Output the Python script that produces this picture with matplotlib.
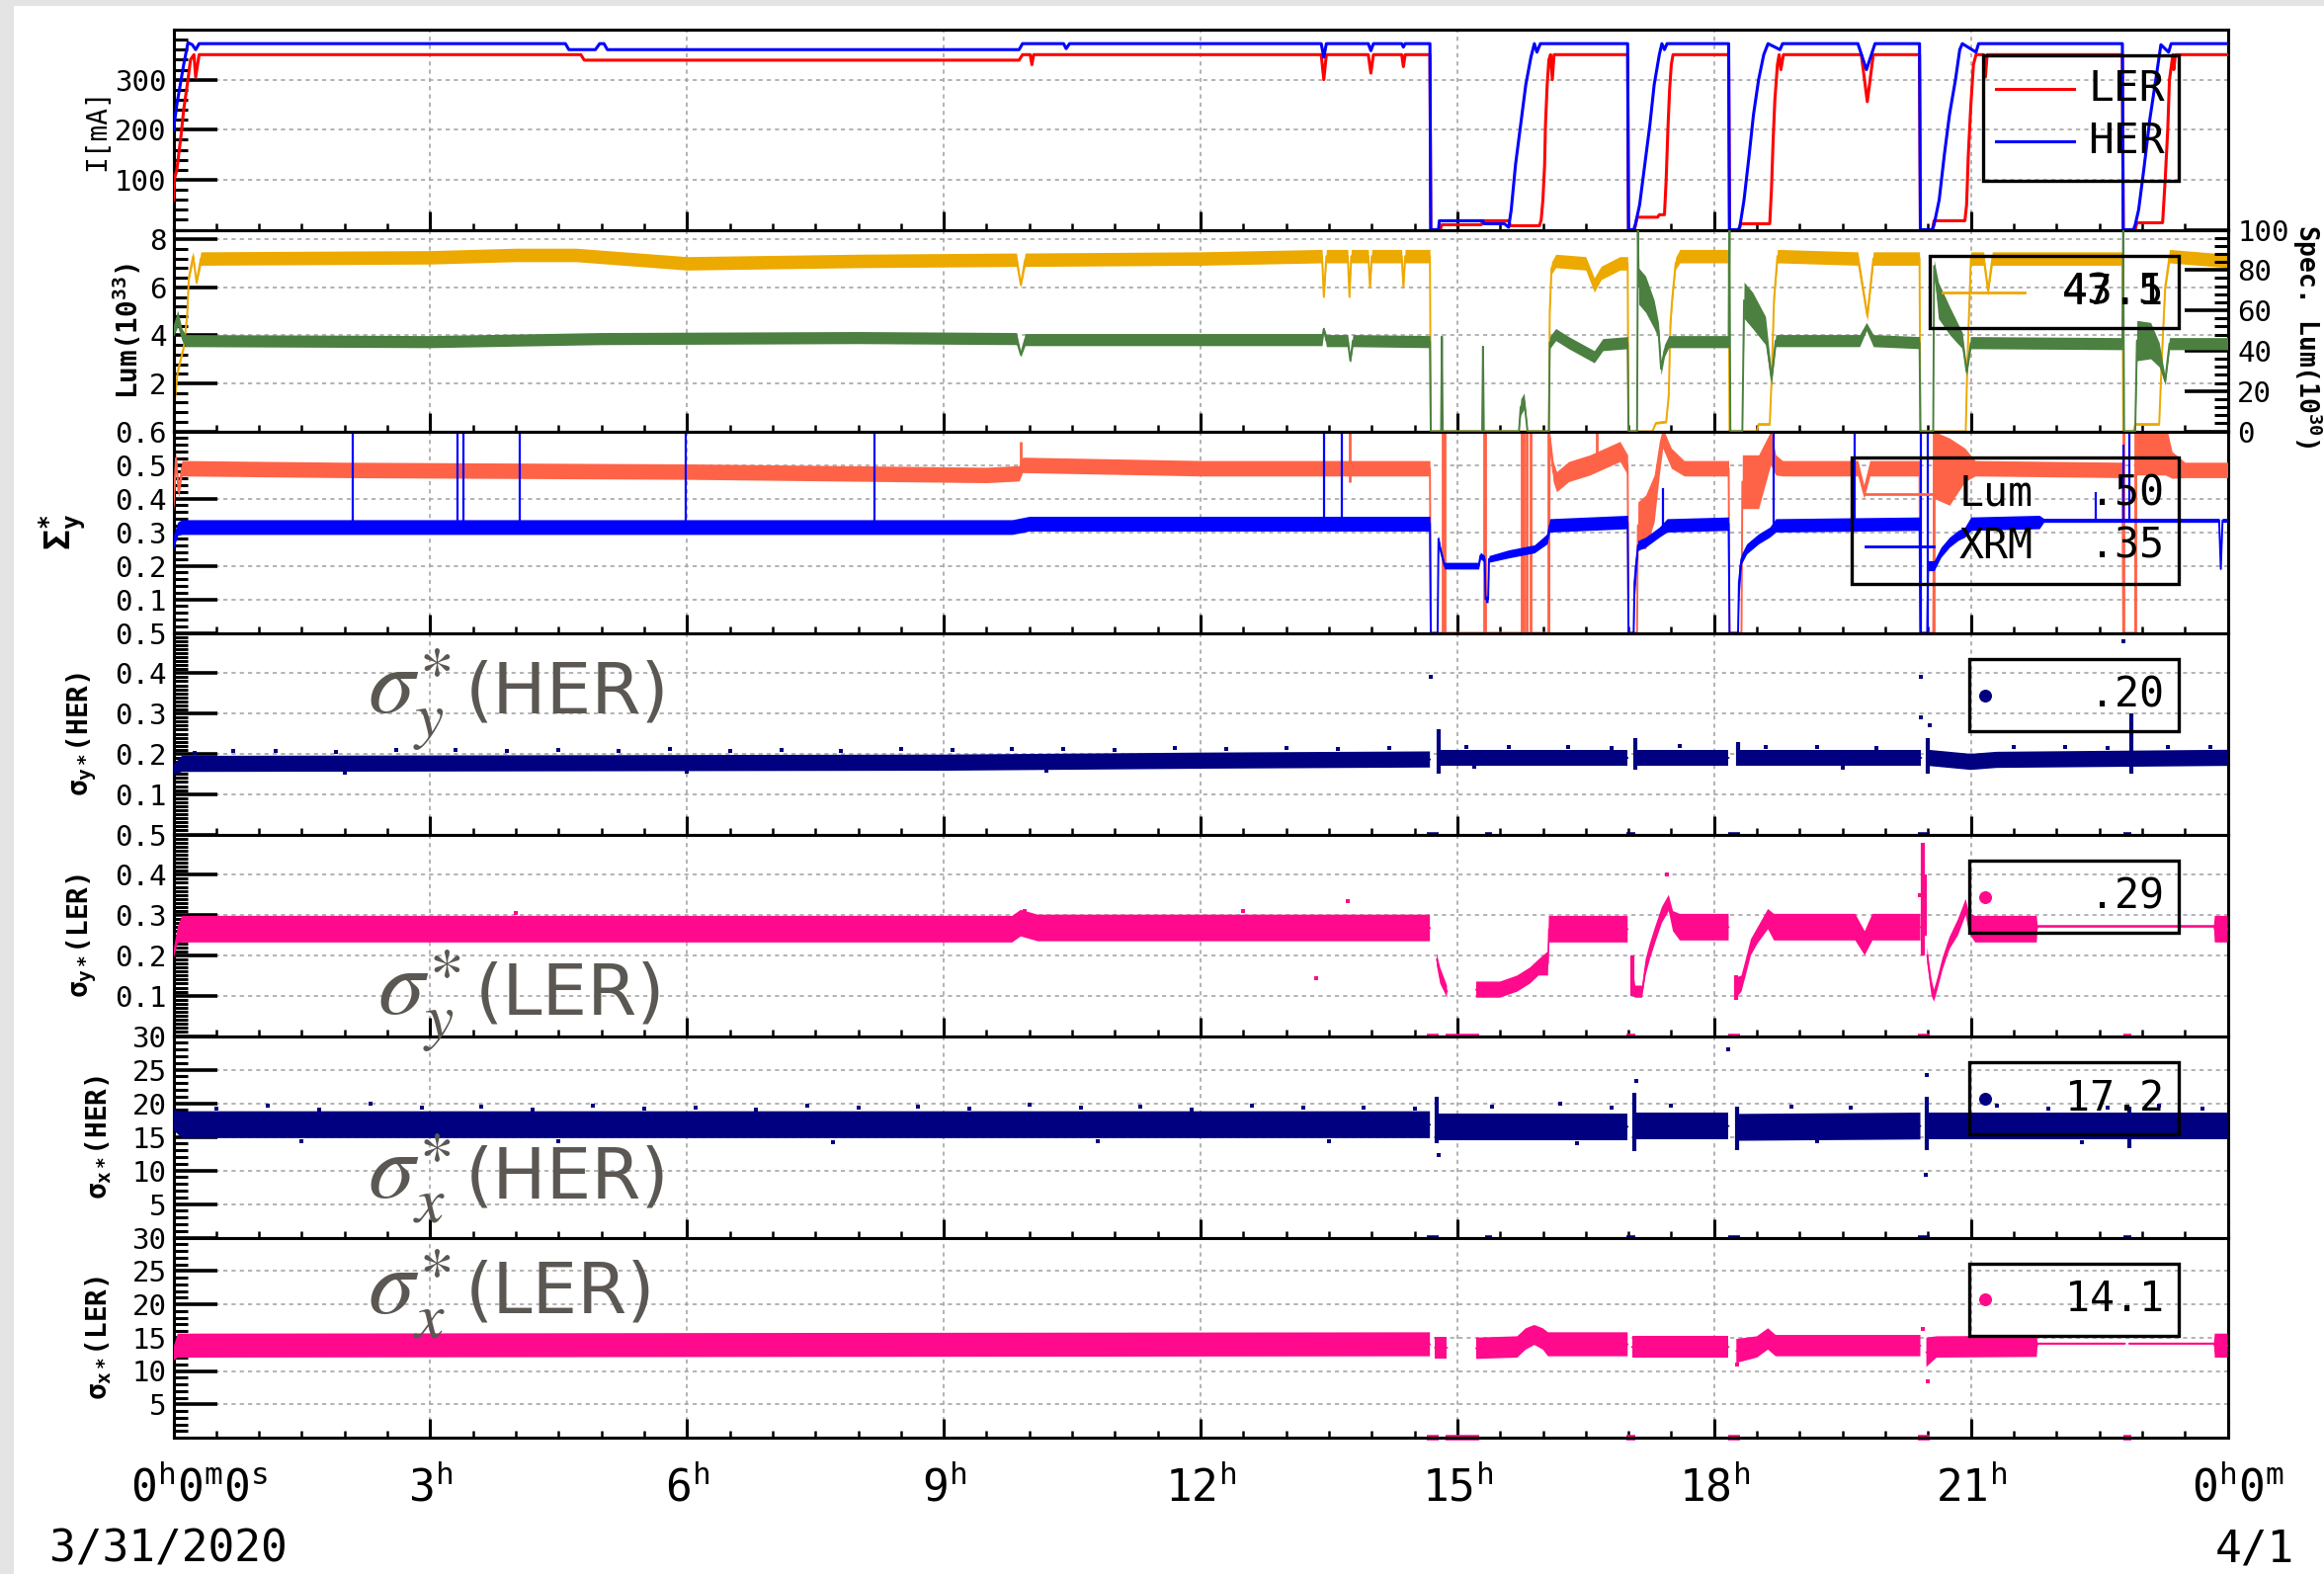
import numpy as np
import matplotlib
matplotlib.use('Agg')
import matplotlib.pyplot as plt
from matplotlib.patches import Rectangle
from matplotlib.lines import Line2D
from matplotlib.ticker import FixedLocator, MultipleLocator, FormatStrFormatter
from matplotlib.transforms import blended_transform_factory

plt.rcParams['font.family'] = ['DejaVu Sans Mono']
plt.rcParams['mathtext.fontset'] = 'custom'
plt.rcParams['mathtext.rm'] = 'DejaVu Sans Mono'
plt.rcParams['mathtext.it'] = 'DejaVu Sans Mono:italic'
plt.rcParams['mathtext.bf'] = 'DejaVu Sans Mono:bold'

nan = float('nan')

# ---------------- data (time in hours since 3/31/2020 0:00) ----------------
# Panel 1: beam currents [mA]  (t, I)
her_current = [(0.00,200),(0.04,250),(0.09,300),(0.12,330),(0.17,374),(0.22,370),(0.26,360),(0.30,372),
    (4.58,372),(4.62,360),(4.93,360),(4.98,372),(5.03,372),(5.07,360),(9.88,360),(9.92,372),(10.40,372),(10.43,362),(10.47,372),
    (13.41,372),(13.44,345),(13.47,372),(13.96,372),(13.99,358),(14.02,372),(14.35,372),(14.37,365),(14.39,372),
    (14.68,372),(14.69,0),(14.78,0),(14.79,18),(15.30,18),(15.31,12),(15.55,12),(15.60,5),
    (15.63,40),(15.68,130),(15.74,210),(15.80,290),(15.86,345),(15.90,372),(15.93,355),(15.97,372),
    (16.99,372),(17.00,0),(17.06,0),(17.08,10),(17.13,50),(17.19,130),(17.25,210),(17.30,290),(17.36,350),(17.39,372),(17.42,360),(17.45,372),
    (18.17,372),(18.18,0),(18.28,0),(18.30,5),(18.35,60),(18.41,150),(18.46,230),(18.52,300),(18.58,350),(18.63,372),(18.77,360),(18.80,372),
    (19.68,372),(19.78,320),(19.88,372),
    (20.40,372),(20.41,0),(20.55,0),(20.57,10),(20.63,60),(20.69,150),(20.75,230),(20.82,300),(20.87,360),(20.90,372),(21.06,355),(21.09,372),
    (22.77,372),(22.78,0),(22.90,0),(22.92,10),(22.96,40),(23.02,120),(23.09,220),(23.16,300),(23.22,370),(23.31,355),(23.34,372),(24.0,372)]
ler_current = [(0.00,60),(0.01,100),(0.04,120),(0.09,190),(0.12,240),(0.17,300),(0.20,340),(0.24,350),(0.26,305),(0.30,350),
    (4.76,350),(4.80,339),(9.88,339),(9.92,350),(10.01,350),(10.03,330),(10.05,350),
    (13.41,350),(13.44,300),(13.47,350),(13.96,350),(13.99,313),(14.02,350),(14.35,350),(14.37,326),(14.39,350),
    (14.68,350),(14.69,0),(14.80,0),(14.82,10),(15.28,10),(15.30,18),(15.60,18),(15.62,8),(15.96,8),
    (15.98,20),(16.00,60),(16.02,130),(16.03,210),(16.05,290),(16.07,340),(16.09,350),(16.11,300),(16.13,350),
    (16.99,350),(17.00,0),(17.07,0),(17.10,25),(17.34,25),(17.36,30),(17.42,30),(17.44,100),(17.46,200),(17.48,280),(17.50,330),(17.52,350),
    (18.17,350),(18.18,0),(18.29,0),(18.31,12),(18.65,12),(18.67,80),(18.69,180),(18.71,260),(18.74,330),(18.76,350),(18.78,320),(18.81,350),
    (19.72,350),(19.79,256),(19.86,350),
    (20.40,350),(20.41,0),(20.55,0),(20.57,18),(20.93,18),(20.95,50),(20.97,150),(21.00,250),(21.03,330),(21.06,350),(21.15,350),(21.17,305),(21.19,350),
    (22.77,350),(22.78,0),(22.92,0),(22.94,14),(23.24,14),(23.27,100),(23.30,200),(23.32,300),(23.36,350),(23.37,320),(23.39,350),(24.0,350)]

# Panel 2: luminosity [1e33] (left) and specific luminosity (right): (t, value, noise half-width)
lum_knots = [(0.00,0.7,0.1),(0.05,2.5,0.1),(0.12,3.5,0.1),(0.16,4.8,0.1),(0.18,6.4,0.15),(0.23,7.3,0.2),(0.27,6.2,0.1),(0.32,7.2,0.28),
    (3.0,7.25,0.28),(4.0,7.35,0.28),(4.7,7.35,0.28),(6.0,7.0,0.28),(8.0,7.1,0.28),(9.85,7.15,0.28),(9.9,6.1,0.1),(9.95,7.15,0.28),
    (12.0,7.2,0.28),(13.42,7.3,0.28),(13.44,5.6,0.1),(13.47,7.3,0.28),(13.72,7.3,0.28),(13.74,5.6,0.1),(13.76,7.3,0.28),
    (13.96,7.3,0.28),(13.98,6.0,0.1),(14.0,7.3,0.28),(14.35,7.3,0.28),(14.37,6.0,0.1),(14.39,7.3,0.28),(14.68,7.3,0.28),
    (14.69,0,0),(16.07,0,0),(16.08,5.0,0.2),(16.10,6.8,0.25),(16.15,7.1,0.28),(16.5,7.0,0.28),(16.6,6.1,0.3),(16.68,6.6,0.28),
    (16.9,7.0,0.28),(16.99,7.0,0.28),(17.0,0,0),(17.28,0,0),(17.32,0.35,0.05),(17.44,0.4,0.05),(17.47,1.5,0.1),(17.49,4.5,0.2),
    (17.51,5.5,0.2),(17.55,7.0,0.25),(17.6,7.3,0.28),(18.17,7.3,0.28),(18.18,0,0),(18.5,0,0),(18.52,0.3,0.05),(18.65,0.3,0.05),
    (18.67,2.0,0.1),(18.70,5.5,0.2),(18.74,7.3,0.28),(19.68,7.2,0.28),(19.79,4.8,0.2),(19.86,7.2,0.28),(20.40,7.2,0.28),
    (20.41,0,0),(20.94,0,0),(20.96,3.0,0.2),(21.0,7.2,0.28),(21.15,7.2,0.28),(21.2,5.85,0.2),(21.25,7.2,0.28),(22.77,7.2,0.28),
    (22.78,0,0),(22.9,0,0),(22.92,0.3,0.05),(23.2,0.3,0.05),(23.23,3.0,0.2),(23.27,6.0,0.2),(23.32,7.3,0.28),(24.0,7.1,0.28)]
spec_knots = [(0.00,50,3),(0.05,56,4),(0.10,48,3),(0.14,45,3),(3.0,44.5,3),(5.0,46,3),(8.0,46.5,3),(9.85,46,3),(9.9,38,1),
    (9.95,45.5,3),(13.0,45.5,3),(13.42,45.5,3),(13.44,50.8,1),(13.47,45,3),(13.72,45,3),(13.75,35,1),(13.78,45,3),(14.68,44.5,3),
    (14.69,0,0),(14.81,0,0),(14.82,47,0),(14.83,0,0),(15.29,0,0),(15.30,42,0),(15.31,0,0),(15.72,0,0),(15.74,12,4),(15.78,15,4),
    (15.80,8,2),(15.82,0,0),(16.07,0,0),(16.08,44,3),(16.15,48,3),(16.3,44,3),(16.6,37,3),(16.7,43,3),(16.99,44,3),(17.0,0,0),
    (17.10,0,0),(17.11,100,0),(17.12,72,9),(17.2,68,9),(17.3,58,7),(17.35,50,4),(17.38,31,3),(17.42,40,3),(17.47,44.5,3),
    (18.17,44.5,3),(18.18,100,0),(18.19,0,0),(18.33,0,0),(18.35,65,9),(18.45,60,9),(18.6,50,7),(18.67,26,3),(18.72,45,3),
    (19.7,45,3),(19.78,52,2),(19.86,45,3),(20.40,44,3),(20.41,0,0),(20.56,0,0),(20.57,82,3),(20.62,65,9),(20.75,55,7),
    (20.9,45,4),(20.95,29.5,2),(21.0,44,3),(22.77,43.5,3),(22.78,100,0),(22.79,0,0),(22.92,0,0),(22.94,45,10),(23.1,45,9),
    (23.2,38,6),(23.27,25,2),(23.32,43.5,3),(24.0,43.5,3)]

# Panel 3: Sigma_y* from luminosity and from XRM: (t, value, noise half-width)
sig_lum_knots = [(0.0,0.38,0.02),(0.03,0.52,0.02),(0.06,0.42,0.02),(0.10,0.49,0.023),(2.0,0.485,0.023),(6.0,0.48,0.023),
    (9.5,0.47,0.023),(9.88,0.475,0.023),(9.92,0.5,0.023),(12.0,0.49,0.023),(14.68,0.49,0.023),(14.69,0,0),(16.07,0,0),
    (16.08,0.58,0.02),(16.12,0.48,0.03),(16.16,0.45,0.03),(16.3,0.48,0.03),(16.55,0.5,0.03),(16.9,0.54,0.03),(16.99,0.5,0.03),
    (17.0,0,0),(17.10,0,0),(17.11,0.32,0.07),(17.2,0.33,0.08),(17.3,0.4,0.07),(17.36,0.52,0.05),(17.40,0.58,0.03),(17.5,0.52,0.03),
    (17.65,0.49,0.023),(18.17,0.49,0.023),(18.18,0,0),(18.32,0,0),(18.33,0.45,0.08),(18.52,0.45,0.08),(18.66,0.55,0.05),
    (18.72,0.5,0.03),(18.8,0.49,0.023),(19.68,0.49,0.023),(19.75,0.42,0.02),(19.82,0.49,0.023),(20.40,0.49,0.023),(20.41,0,0),
    (20.56,0,0),(20.57,0.5,0.1),(20.75,0.48,0.1),(20.93,0.5,0.05),(21.05,0.49,0.023),(22.77,0.485,0.023),(22.78,0,0),(22.92,0,0),
    (22.93,0.55,0.08),(23.27,0.55,0.08),(23.35,0.5,0.04),(23.5,0.485,0.023),(24.0,0.485,0.023)]
sig_xrm_knots = [(0.0,0.27,0.02),(0.05,0.31,0.02),(0.10,0.315,0.022),(9.8,0.315,0.022),(10.0,0.325,0.022),(14.68,0.325,0.022),
    (14.69,0,0),(14.77,0,0),(14.78,0.28,0.01),(14.80,0.25,0.01),(14.85,0.2,0.01),(15.25,0.2,0.01),(15.27,0.23,0.01),(15.32,0.22,0.01),
    (15.33,0.1,0.01),(15.36,0.1,0.01),(15.37,0.22,0.01),(15.6,0.235,0.012),(15.9,0.25,0.012),(16.05,0.28,0.015),(16.08,0.32,0.02),
    (16.99,0.33,0.02),(17.0,0,0),(17.06,0,0),(17.07,0.15,0.05),(17.11,0.26,0.015),(17.2,0.27,0.015),(17.36,0.30,0.015),
    (17.45,0.32,0.02),(18.17,0.325,0.02),(18.18,0,0),(18.28,0,0),(18.29,0.15,0.05),(18.32,0.22,0.015),(18.38,0.25,0.015),
    (18.52,0.28,0.015),(18.65,0.30,0.015),(18.72,0.32,0.02),(20.40,0.325,0.02),(20.41,0,0),(20.49,0,0),(20.50,0.2,0.015),
    (20.57,0.2,0.015),(20.65,0.24,0.015),(20.75,0.27,0.015),(20.85,0.29,0.015),(20.93,0.30,0.015),(21.0,0.325,0.02),
    (21.8,0.33,0.02),(21.85,0.335,0.006),(23.9,0.335,0.006),(23.92,0.19,0.0),(23.94,0.335,0.006),(24.0,0.335,0.006)]
xrm_spikes = [(2.10,0.33,0.62),(3.32,0.33,0.62),(3.39,0.33,0.62),(4.05,0.33,0.62),(5.99,0.33,0.62),(8.19,0.33,0.62),
    (13.44,0.33,0.62),(13.65,0.33,0.62),(17.40,0.32,0.43),(18.70,0.30,0.62),(19.64,0.33,0.62),(20.41,0.0,0.62),
    (20.50,0.0,0.62),(22.46,0.335,0.42),(22.78,0.335,0.56),(22.85,0.335,0.62)]
lum_spikes = [(9.90,0.5,0.57),(13.74,0.45,0.62),(14.83,0,0.62),(14.85,0,0.62),(15.31,0,0.62),(15.33,0,0.62),(15.75,0,0.62),
    (15.78,0,0.62),(15.81,0,0.62),(15.85,0,0.62),(16.06,0,0.62),(16.63,0.5,0.6),(18.66,0.5,0.62),(20.57,0,0.62),
    (22.78,0,0.62),(22.92,0,0.62)]

# Panel 4: sigma_y*(HER) [um]
sy_her_knots = [(0.0,0.16,0.012),(0.1,0.175,0.02),(3.0,0.176,0.02),(9.0,0.178,0.02),(12.0,0.183,0.02),(14.68,0.186,0.02),
    (14.69,nan,nan),(14.78,nan,nan),(14.79,0.19,0.02),(16.99,0.19,0.02),(17.0,nan,nan),(17.07,nan,nan),(17.08,0.19,0.02),
    (18.17,0.19,0.02),(18.18,nan,nan),(18.27,nan,nan),(18.28,0.19,0.02),(20.42,0.19,0.02),(20.43,nan,nan),(20.49,nan,nan),
    (20.50,0.19,0.02),(21.0,0.18,0.02),(21.3,0.185,0.02),(24.0,0.19,0.02)]
sy_her_spread = [(14.78,0.15,0.26),(17.08,0.16,0.24),(18.28,0.17,0.23),(20.50,0.15,0.24),(22.88,0.15,0.30)]
sy_her_points = [(14.69,0.39),(20.41,0.39),(20.41,0.29),(20.52,0.27),(22.78,0.48),
    (0.25,0.203),(0.7,0.206),(1.2,0.208),(1.9,0.204),(2.6,0.209),(3.3,0.21),(3.9,0.206),(4.5,0.209),(5.2,0.207),(5.8,0.211),
    (6.5,0.208),(7.1,0.21),(7.8,0.207),(8.5,0.212),(9.1,0.209),(9.8,0.211),(10.4,0.213),(11.0,0.21),(11.7,0.214),(12.3,0.211),
    (13.0,0.214),(13.6,0.212),(14.2,0.215),(15.1,0.216),(15.6,0.218),(16.3,0.216),(16.8,0.214),(17.6,0.219),(18.6,0.216),
    (19.2,0.218),(19.9,0.214),(21.5,0.216),(22.1,0.217),(22.6,0.215),(23.3,0.218),(23.8,0.216),
    (2.0,0.153),(6.0,0.156),(10.2,0.158),(15.2,0.167),(19.5,0.166)]

# Panel 5: sigma_y*(LER) [um]
sy_ler_knots = [(0.0,0.2,0.01),(0.05,0.25,0.02),(0.1,0.265,0.033),(9.8,0.265,0.033),(9.9,0.28,0.033),(10.1,0.268,0.033),
    (14.68,0.268,0.033),(14.69,nan,nan),(14.75,nan,nan),(14.76,0.19,0.015),(14.80,0.15,0.02),(14.88,0.11,0.015),(14.89,nan,nan),
    (15.21,nan,nan),(15.22,0.115,0.02),(15.5,0.115,0.02),(15.7,0.13,0.02),(15.85,0.15,0.02),(15.95,0.17,0.02),(16.06,0.18,0.03),
    (16.07,0.265,0.033),(16.99,0.265,0.033),(17.0,nan,nan),(17.03,nan,nan),(17.04,0.14,0.04),(17.08,0.11,0.015),(17.16,0.11,0.015),
    (17.2,0.17,0.02),(17.25,0.21,0.02),(17.31,0.25,0.02),(17.39,0.3,0.02),(17.47,0.33,0.02),(17.52,0.285,0.025),(17.6,0.27,0.033),
    (18.17,0.27,0.033),(18.18,nan,nan),(18.25,nan,nan),(18.26,0.12,0.025),(18.32,0.13,0.02),(18.37,0.17,0.02),(18.43,0.22,0.02),
    (18.51,0.25,0.02),(18.63,0.29,0.025),(18.7,0.27,0.033),(19.65,0.27,0.033),(19.76,0.23,0.03),(19.85,0.27,0.033),
    (20.41,0.27,0.033),(20.42,nan,nan),(20.48,nan,nan),(20.49,0.2,0.02),(20.54,0.12,0.02),(20.57,0.1,0.015),(20.61,0.13,0.015),
    (20.67,0.18,0.015),(20.75,0.23,0.015),(20.85,0.27,0.02),(20.94,0.32,0.02),(20.98,0.28,0.025),(21.05,0.265,0.033),
    (21.77,0.265,0.033),(21.78,0.272,0.003),(23.84,0.272,0.003),(23.85,0.265,0.033),(24.0,0.265,0.033)]
sy_ler_spread = [(20.44,0.20,0.48),(20.46,0.25,0.40),(17.04,0.10,0.20),(18.26,0.09,0.15)]
sy_ler_points = [(13.35,0.143),(13.72,0.335),(17.45,0.40),(20.40,0.35),(9.95,0.31),(4.0,0.305),(12.5,0.31)]

# Panel 6: sigma_x*(HER) [um]
sx_her_knots = [(0.0,17.5,1.5),(0.1,16.8,2.0),(14.68,16.8,2.0),(14.69,nan,nan),(14.75,nan,nan),(14.76,16.5,2.0),(16.99,16.5,2.0),
    (17.0,nan,nan),(17.06,nan,nan),(17.07,16.6,2.0),(18.17,16.6,2.0),(18.18,nan,nan),(18.26,nan,nan),(18.27,16.4,2.0),
    (20.41,16.6,2.0),(20.42,nan,nan),(20.47,nan,nan),(20.48,16.6,2.0),(24.0,16.6,2.0)]
sx_her_spread = [(14.76,14.0,21.0),(17.07,12.8,21.5),(18.27,13.0,19.5),(20.48,13.0,21.0),(22.85,13.3,19.5)]
sx_her_points = [(14.78,12.3),(17.09,23.3),(18.17,28.0),(20.47,9.4),(20.48,24.2),
    (0.5,19.2),(1.1,19.6),(1.7,19.1),(2.3,19.9),(2.9,19.3),(3.6,19.5),(4.2,19.1),(4.9,19.7),(5.5,19.2),(6.1,19.4),(6.8,19.1),
    (7.4,19.6),(8.0,19.3),(8.7,19.5),(9.3,19.2),(10.0,19.8),(10.6,19.3),(11.3,19.5),(11.9,19.1),(12.6,19.6),(13.2,19.3),
    (13.9,19.4),(14.5,19.2),(15.4,19.5),(16.2,19.9),(16.8,19.3),(17.5,19.6),(18.9,19.5),(19.6,19.3),(21.3,19.7),(21.9,19.2),
    (22.6,19.4),(23.2,19.6),(23.7,19.2),
    (1.5,14.3),(4.5,14.4),(7.7,14.2),(10.8,14.4),(13.5,14.3),(16.4,14.1),(19.2,14.3),(22.3,14.2)]

# Panel 7: sigma_x*(LER) [um]
sx_ler_knots = [(0.0,12.5,1.0),(0.05,13.8,1.8),(14.68,14.0,1.8),(14.69,nan,nan),(14.73,nan,nan),(14.74,13.5,1.6),(14.88,13.5,1.6),
    (14.89,nan,nan),(15.21,nan,nan),(15.22,13.4,1.6),(15.70,13.6,1.6),(15.80,14.8,1.6),(15.90,15.4,1.5),(16.0,14.8,1.6),
    (16.06,14.0,1.8),(16.99,14.0,1.8),(17.0,nan,nan),(17.03,nan,nan),(17.04,13.6,1.6),(18.17,13.6,1.6),(18.18,nan,nan),
    (18.25,nan,nan),(18.26,13.0,1.8),(18.5,13.6,1.6),(18.63,14.8,1.6),(18.72,13.8,1.6),(20.41,13.8,1.6),(20.42,nan,nan),
    (20.47,nan,nan),(20.48,12.8,2.2),(20.6,13.6,1.6),(21.77,13.7,1.6),(21.78,14.1,0.15),(22.80,14.1,0.15),(22.81,nan,nan),
    (22.84,nan,nan),(22.85,14.1,0.15),(23.84,14.1,0.15),(23.85,13.8,1.8),(24.0,13.8,1.8)]
sx_ler_points = [(20.5,8.5),(18.27,11.0),(20.44,16.3)]

# zero readings (drawn on the axis) during beam loss
her_zero = [(14.64,14.78),(15.32,15.40),(16.98,17.08),(18.16,18.30),(20.38,20.52),(22.78,22.88)]
ler_zero = [(14.64,14.78),(14.86,15.26),(16.98,17.08),(18.16,18.30),(20.38,20.52),(22.78,22.88)]

# legend values
leg_values_lum = ['43.5', '47.1']
leg_values_sigma = ['.50', '.35']
leg_sy_her, leg_sy_ler, leg_sx_her, leg_sx_ler = '.20', '.29', '17.2', '14.1'

xtick_pos = [0, 3, 6, 9, 12, 15, 18, 21, 24]
xtick_lab = [r'0$^{\mathrm{h}}$0$^{\mathrm{m}}$0$^{\mathrm{s}}$', r'3$^{\mathrm{h}}$', r'6$^{\mathrm{h}}$', r'9$^{\mathrm{h}}$',
             r'12$^{\mathrm{h}}$', r'15$^{\mathrm{h}}$', r'18$^{\mathrm{h}}$', r'21$^{\mathrm{h}}$', r'0$^{\mathrm{h}}$0$^{\mathrm{m}}$']

# ---------------- colours ----------------
C_LER = '#ff0000'; C_HER = '#0000ff'; C_LUM = '#eca900'; C_SPEC = '#4b8040'
C_TOM = '#ff6347'; C_NAVY = '#000080'; C_PINK = '#ff0a8c'; C_ANN = '#5b5752'

# ---------------- figure ----------------
W, H = 2352, 1593
fig = plt.figure(figsize=(W/100, H/100), dpi=100)
fig.patch.set_facecolor('#e4e4e4')
fig.add_artist(Rectangle((14/W, 0), 1, 1-6/H, transform=fig.transFigure, facecolor='white', edgecolor='none', zorder=-100))

x_l, x_r = 175.5, 2254.5
edges = [30, 232.5, 436.5, 640.5, 844.5, 1048.5, 1252.5, 1455]
axes = []
for i in range(7):
    top, bot = edges[i], edges[i+1]
    axes.append(fig.add_axes([x_l/W, 1-bot/H, (x_r-x_l)/W, (bot-top)/H]))

GRID = dict(color='#a6a6a6', linestyle=(0, (2.5, 2.5)), linewidth=1.2)

def style(ax, ylim, majors, minor, fmt):
    ax.set_xlim(0, 24)
    ax.set_ylim(*ylim)
    ax.xaxis.set_major_locator(MultipleLocator(3))
    ax.xaxis.set_minor_locator(MultipleLocator(0.5))
    ax.yaxis.set_major_locator(FixedLocator(majors))
    ax.yaxis.set_minor_locator(MultipleLocator(minor))
    ax.yaxis.set_major_formatter(FormatStrFormatter(fmt))
    ax.tick_params(axis='x', which='major', direction='in', length=14, width=2.2, top=False, labelbottom=False)
    ax.tick_params(axis='x', which='minor', direction='in', length=5, width=1.8, top=False)
    ax.tick_params(axis='y', which='major', direction='in', length=32, width=2.6, right=False, labelsize=21, pad=5)
    ax.tick_params(axis='y', which='minor', direction='in', length=10, width=2.2, right=False)
    ax.grid(True, which='major', **GRID)
    ax.set_axisbelow(True)
    for s in ax.spines.values():
        s.set_linewidth(2.2)

def unpack(knots):
    t = np.array([k[0] for k in knots], float)
    v = np.array([k[1] for k in knots], float)
    h = np.array([k[2] for k in knots], float)
    return t, v, h

def band(ax, knots, color, line=True, lw=1.6, z=2.7):
    t, v, h = unpack(knots)
    ax.fill_between(t, v-h, v+h, color=color, lw=0, zorder=z)
    if line:
        ax.plot(t, v, color=color, lw=lw, zorder=z)

def spread(ax, segs, color, lw=3.0):
    ax.vlines([s[0] for s in segs], [s[1] for s in segs], [s[2] for s in segs], color=color, lw=lw, zorder=2.7)

def dots(ax, pts, color, s=9):
    ax.scatter([p[0] for p in pts], [p[1] for p in pts], s=s, marker='s', color=color, lw=0, zorder=2.8)

def zeros(ax, segs, color):
    ax.hlines([0]*len(segs), [s[0] for s in segs], [s[1] for s in segs], color=color, lw=4, zorder=1.9, clip_on=False)

def box(ax, x0, y0, x1, y1):
    ax.add_patch(Rectangle((x0, y0), x1-x0, y1-y0, transform=ax.transAxes, fill=False,
                           edgecolor='black', lw=2.4, zorder=10, clip_on=False))

def ylab(ax, xf, text, size, weight='bold'):
    ax.text(xf, 0.5, text, transform=ax.transAxes, rotation=90, ha='center', va='center',
            fontsize=size, fontweight=weight)

# Panel 1
ax = axes[0]
style(ax, (0, 400), [100, 200, 300], 20, '%d')
t, v = zip(*ler_current); ax.plot(t, v, color=C_LER, lw=2.2, zorder=2.7)
t, v = zip(*her_current); ax.plot(t, v, color=C_HER, lw=2.2, zorder=2.75)
ylab(ax, -0.0373, 'I[mA]', 20, 'normal')
box(ax, 0.881, 0.244, 0.976, 0.874)
ax.add_line(Line2D([0.887, 0.925], [0.704, 0.704], color=C_LER, lw=2.2, transform=ax.transAxes, zorder=11))
ax.add_line(Line2D([0.887, 0.925], [0.442, 0.442], color=C_HER, lw=2.2, transform=ax.transAxes, zorder=11))
ax.text(0.932, 0.704, 'LER', transform=ax.transAxes, ha='left', va='center', fontsize=31, zorder=11)
ax.text(0.932, 0.442, 'HER', transform=ax.transAxes, ha='left', va='center', fontsize=31, zorder=11)

# Panel 2
ax = axes[1]
style(ax, (0, 8.4), [2, 4, 6, 8], 0.4, '%d')
band(ax, lum_knots, C_LUM, lw=1.4)
ax2 = ax.twinx()
ax2.set_xlim(0, 24); ax2.set_ylim(0, 100)
ax2.yaxis.set_major_locator(FixedLocator([0, 20, 40, 60, 80, 100]))
ax2.yaxis.set_minor_locator(MultipleLocator(4))
ax2.tick_params(axis='y', which='major', direction='in', length=32, width=2.6, left=False, right=True, labelsize=21, pad=7)
ax2.tick_params(axis='y', which='minor', direction='in', length=10, width=2.2, left=False, right=True)
for s in ax2.spines.values():
    s.set_linewidth(2.2)
band(ax2, spec_knots, C_SPEC, lw=1.4)
ylab(ax, -0.0219, r'Lum(10$^{\mathbf{33}}$)', 20)
fig.text(2335/W, 1-340/H, r'Spec. Lum(10$^{\mathbf{30}}$)', rotation=270, ha='center', va='center', fontsize=19, fontweight='bold')
box(ax2, 0.855, 0.512, 0.976, 0.870)
ax2.add_line(Line2D([0.861, 0.901], [0.689, 0.689], color=C_LUM, lw=2.0, transform=ax2.transAxes, zorder=11))
for s in leg_values_lum:
    ax2.text(0.969, 0.689, s, transform=ax2.transAxes, ha='right', va='center', fontsize=31, zorder=11)

# Panel 3
ax = axes[2]
style(ax, (0, 0.6), [0.1, 0.2, 0.3, 0.4, 0.5, 0.6], 0.02, '%.1f')
band(ax, sig_lum_knots, C_TOM, lw=1.4)
spread(ax, lum_spikes, C_TOM, lw=2.0)
band(ax, sig_xrm_knots, C_HER, lw=1.4, z=2.75)
spread(ax, xrm_spikes, C_HER, lw=1.6)
ylab(ax, -0.0541, r'Σ$_{\mathbf{y}}^{\mathbf{*}}$', 25)
box(ax, 0.817, 0.243, 0.976, 0.870)
ax.add_line(Line2D([0.8235, 0.857], [0.689, 0.689], color=C_TOM, lw=2.0, transform=ax.transAxes, zorder=11))
ax.add_line(Line2D([0.8235, 0.857], [0.429, 0.429], color=C_HER, lw=2.0, transform=ax.transAxes, zorder=11))
ax.text(0.869, 0.689, 'Lum', transform=ax.transAxes, ha='left', va='center', fontsize=30, zorder=11)
ax.text(0.869, 0.429, 'XRM', transform=ax.transAxes, ha='left', va='center', fontsize=30, zorder=11)
ax.text(0.969, 0.689, leg_values_sigma[0], transform=ax.transAxes, ha='right', va='center', fontsize=30, zorder=11)
ax.text(0.969, 0.429, leg_values_sigma[1], transform=ax.transAxes, ha='right', va='center', fontsize=30, zorder=11)

# Panels 4-7
specs = [
    (axes[3], (0, 0.5), [0.1, 0.2, 0.3, 0.4, 0.5], 0.01, '%.1f', sy_her_knots, sy_her_spread, sy_her_points, her_zero, C_NAVY,
     r'σ$_{\mathbf{y*}}$(HER)', -0.0445, leg_sy_her),
    (axes[4], (0, 0.5), [0.1, 0.2, 0.3, 0.4, 0.5], 0.01, '%.1f', sy_ler_knots, sy_ler_spread, sy_ler_points, ler_zero, C_PINK,
     r'σ$_{\mathbf{y*}}$(LER)', -0.0445, leg_sy_ler),
    (axes[5], (0, 30), [5, 10, 15, 20, 25, 30], 1, '%d', sx_her_knots, sx_her_spread, sx_her_points, her_zero, C_NAVY,
     r'σ$_{\mathbf{x*}}$(HER)', -0.0363, leg_sx_her),
    (axes[6], (0, 30), [5, 10, 15, 20, 25, 30], 1, '%d', sx_ler_knots, [], sx_ler_points, ler_zero, C_PINK,
     r'σ$_{\mathbf{x*}}$(LER)', -0.0363, leg_sx_ler),
]
for ax, ylim, maj, mnr, fmt, knots, spr, pts, zr, col, lab, lxf, lval in specs:
    style(ax, ylim, maj, mnr, fmt)
    band(ax, knots, col, line=True, lw=1.2)
    if spr:
        spread(ax, spr, col)
    dots(ax, pts, col)
    zeros(ax, zr, col)
    ylab(ax, lxf, lab, 20)
    box(ax, 0.874, 0.51, 0.976, 0.87)
    ax.scatter([0.882], [0.69], s=70, color=col, transform=ax.transAxes, zorder=11, clip_on=False)
    ax.text(0.969, 0.69, lval, transform=ax.transAxes, ha='right', va='center', fontsize=30, zorder=11)

# x tick labels on bottom panel
axb = axes[6]
tr = blended_transform_factory(axb.transData, fig.transFigure)
yb = 1 - 1520/H
for i, (p, s) in enumerate(zip(xtick_pos, xtick_lab)):
    if i == 0:
        axb.text(-0.5, yb, s, transform=tr, ha='left', va='baseline', fontsize=32)
    elif i == len(xtick_pos) - 1:
        axb.text(p + 0.12, yb, s, transform=tr, ha='center', va='baseline', fontsize=32)
    else:
        axb.text(p, yb, s, transform=tr, ha='center', va='baseline', fontsize=32)
fig.text(50/W, 1-1580/H, '3/31/2020', ha='left', va='baseline', fontsize=32)
fig.text(2322/W, 1-1580/H, '4/1', ha='right', va='baseline', fontsize=32)

# large annotations: symbol and ring name
ann = [(r'$\sigma^{\ast}_{y}$', '(HER)', 372, 721), (r'$\sigma^{\ast}_{y}$', '(LER)', 382, 1026),
       (r'$\sigma^{\ast}_{x}$', '(HER)', 372, 1212), (r'$\sigma^{\ast}_{x}$', '(LER)', 372, 1329)]
for sym, ring, xs, yp in ann:
    fig.text(xs/W, 1-yp/H, sym, ha='left', va='baseline', fontsize=68, color=C_ANN,
             math_fontfamily='stix', zorder=20)
    fig.text((xs+99)/W, 1-yp/H, ring, ha='left', va='baseline', fontsize=52, color=C_ANN,
             fontfamily='DejaVu Sans', zorder=20)

fig.savefig('out.png', dpi=100)
